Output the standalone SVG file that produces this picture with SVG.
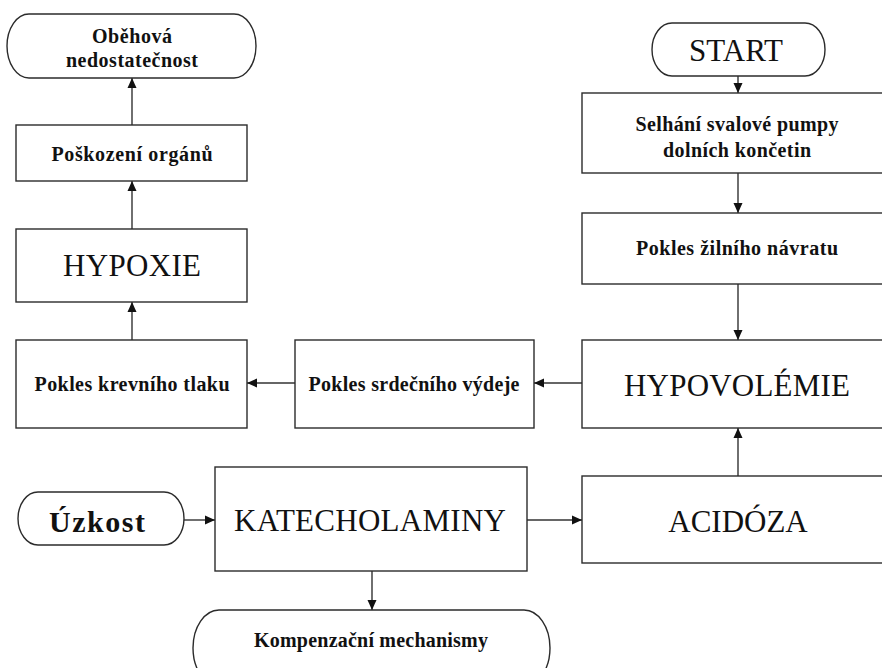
<svg xmlns="http://www.w3.org/2000/svg" width="882" height="668" viewBox="0 0 882 668">
  <style>
    .box { fill: #ffffff; stroke: #2b2b2b; stroke-width: 1.4; }
    .term { fill: #ffffff; stroke: #2b2b2b; stroke-width: 1.4; }
    .b { font-weight: bold; font-size: 20px; fill: #111; text-anchor: middle; }
    .big { font-size: 31px; fill: #111; text-anchor: middle; }
    .conn line { stroke: #333; stroke-width: 1.4; fill: none; marker-end: url(#arrow); }
  </style>
  <defs>
    <marker id="arrow" viewBox="0 0 10 10" refX="10" refY="5" markerWidth="10" markerHeight="10" markerUnits="userSpaceOnUse" orient="auto">
      <path d="M0,0.5 L10,5 L0,9.5 Z" fill="#111"/>
    </marker>
  </defs>

  <rect width="882" height="668" fill="#ffffff"/>

  <!-- connectors -->
  <g id="connectors" class="conn">
    <line x1="738" y1="76" x2="738" y2="93"/>
    <line x1="738" y1="173" x2="738" y2="213"/>
    <line x1="738" y1="284" x2="738" y2="340"/>
    <line x1="738" y1="476" x2="738" y2="428"/>
    <line x1="582" y1="383" x2="534" y2="383"/>
    <line x1="295" y1="383" x2="247" y2="383"/>
    <line x1="132" y1="340" x2="132" y2="302"/>
    <line x1="132" y1="229" x2="132" y2="181"/>
    <line x1="132" y1="125" x2="132" y2="78"/>
    <line x1="184" y1="520" x2="215" y2="520"/>
    <line x1="527" y1="520" x2="582" y2="520"/>
    <line x1="372" y1="571" x2="372" y2="610"/>
  </g>

  <!-- left column -->
  <g id="obehova-nedostatecnost">
    <rect class="term" x="7" y="14" width="249" height="64" rx="22" ry="32"/>
    <text class="b" font-family="Liberation Serif" x="132" y="43" textLength="80" lengthAdjust="spacing">Oběhová</text>
    <text class="b" font-family="Liberation Serif" x="132" y="67" textLength="132" lengthAdjust="spacing">nedostatečnost</text>
  </g>
  <g id="poskozeni-organu">
    <rect class="box" x="16" y="125" width="231" height="56"/>
    <text class="b" font-family="Liberation Serif" x="132" y="161" textLength="161" lengthAdjust="spacing">Poškození orgánů</text>
  </g>
  <g id="hypoxie">
    <rect class="box" x="16" y="229" width="231" height="73"/>
    <text class="big" font-family="Liberation Serif" x="132" y="276" textLength="138" lengthAdjust="spacing">HYPOXIE</text>
  </g>
  <g id="pokles-krevniho-tlaku">
    <rect class="box" x="16" y="340" width="231" height="88"/>
    <text class="b" font-family="Liberation Serif" x="132" y="391" textLength="195" lengthAdjust="spacing">Pokles krevního tlaku</text>
  </g>
  <g id="pokles-srdecniho-vydeje">
    <rect class="box" x="295" y="340" width="239" height="88"/>
    <text class="b" font-family="Liberation Serif" x="414" y="391" textLength="211" lengthAdjust="spacing">Pokles srdečního výdeje</text>
  </g>

  <!-- right column -->
  <g id="start">
    <rect class="term" x="652" y="23" width="173" height="53" rx="20" ry="26.5"/>
    <text class="big" font-family="Liberation Serif" x="736" y="61">START</text>
  </g>
  <g id="selhani-svalove-pumpy">
    <rect class="box" x="582" y="93" width="312" height="80"/>
    <text class="b" font-family="Liberation Serif" x="737" y="131" textLength="203" lengthAdjust="spacing">Selhání svalové pumpy</text>
    <text class="b" font-family="Liberation Serif" x="737" y="157" textLength="148" lengthAdjust="spacing">dolních končetin</text>
  </g>
  <g id="pokles-zilniho-navratu">
    <rect class="box" x="582" y="213" width="312" height="71"/>
    <text class="b" font-family="Liberation Serif" x="737" y="255" textLength="202" lengthAdjust="spacing">Pokles žilního návratu</text>
  </g>
  <g id="hypovolemie">
    <rect class="box" x="582" y="340" width="312" height="88"/>
    <text class="big" font-family="Liberation Serif" x="737" y="396" textLength="226" lengthAdjust="spacing">HYPOVOLÉMIE</text>
  </g>
  <g id="acidoza">
    <rect class="box" x="582" y="476" width="312" height="87"/>
    <text class="big" font-family="Liberation Serif" x="738" y="532">ACIDÓZA</text>
  </g>

  <!-- bottom row -->
  <g id="uzkost">
    <rect class="term" x="18" y="492" width="166" height="53" rx="20" ry="26.5"/>
    <text class="b" font-family="Liberation Serif" font-size="30" x="97" y="532" style="font-size:30px" textLength="96" lengthAdjust="spacing">Úzkost</text>
  </g>
  <g id="katecholaminy">
    <rect class="box" x="215" y="467" width="312" height="104"/>
    <text class="big" font-family="Liberation Serif" x="370" y="531" textLength="272" lengthAdjust="spacing">KATECHOLAMINY</text>
  </g>
  <g id="kompenzacni-mechanismy">
    <rect class="term" x="193" y="610" width="357" height="76" rx="26" ry="38"/>
    <text class="b" font-family="Liberation Serif" x="371" y="647" textLength="234" lengthAdjust="spacing">Kompenzační mechanismy</text>
  </g>
</svg>
